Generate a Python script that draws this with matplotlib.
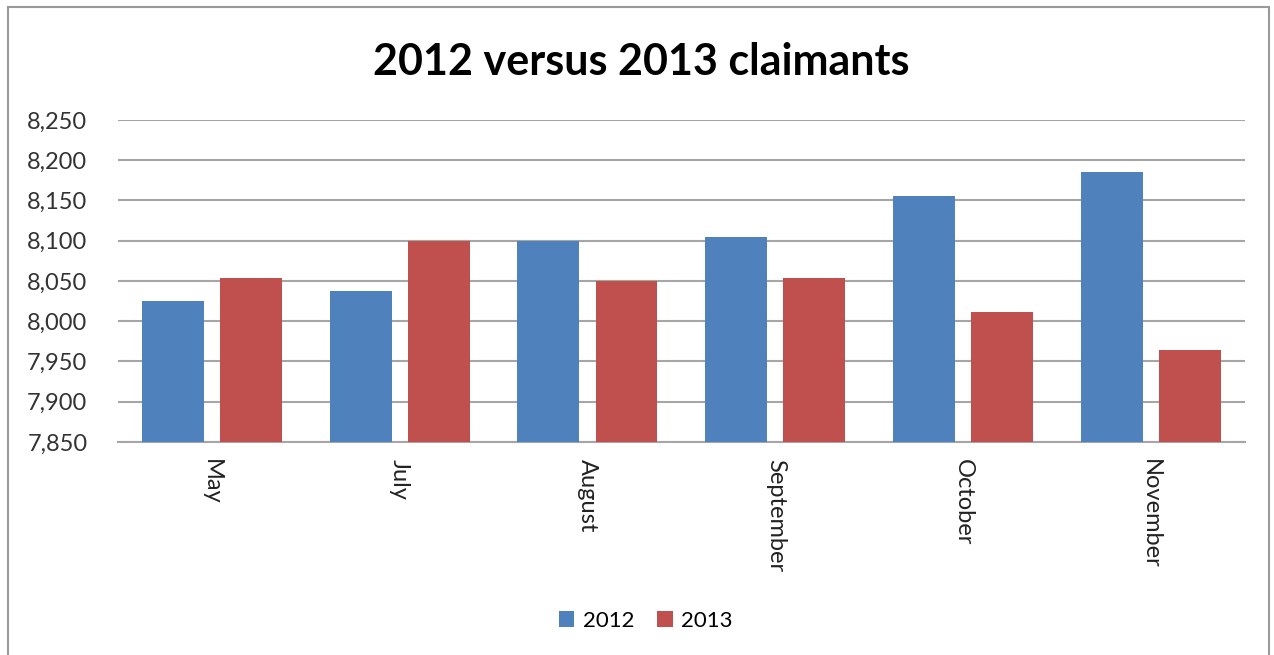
import numpy as np
import matplotlib.pyplot as plt
from matplotlib.patches import Rectangle

months = ["May", "July", "August", "September", "October", "November"]
claims_2012 = [8025, 8038, 8100, 8105, 8156, 8185]
claims_2013 = [8054, 8100, 8050, 8054, 8011, 7964]
yticks = list(range(7850, 8251, 50))

plt.rcParams['font.family'] = ['Lato', 'DejaVu Sans']

fig = plt.figure(figsize=(12.74, 6.55), dpi=100)
ax = fig.add_axes([0.0926, 0.3252, 0.8844, 0.4916])

x = np.arange(len(months))
w = 0.33
ax.bar(x - 0.208, claims_2012, w, color='#4F81BD', label='2012', zorder=3)
ax.bar(x + 0.208, claims_2013, w, color='#C0504D', label='2013', zorder=3)

ax.set_xlim(-0.5, len(months) - 0.5)
ax.set_ylim(7850, 8250)
ax.set_yticks(yticks)
ax.set_yticklabels([f"{v:,}" for v in yticks], fontsize=17, color='#333333')
ax.set_xticks(x)
ax.set_xticklabels(months, rotation=-90, fontsize=17, color='#222222')
ax.tick_params(axis='y', length=0, pad=22)
ax.tick_params(axis='x', length=0, pad=12)
ax.yaxis.grid(True, color='#a6a6a6', linewidth=1.5, zorder=0)
for s in ['left', 'right', 'top']:
    ax.spines[s].set_visible(False)
ax.spines['bottom'].set_color('#a6a6a6')
ax.spines['bottom'].set_linewidth(1.5)

fig.text(0.503, 0.905, "2012 versus 2013 claimants", ha='center', va='center',
         fontsize=31, fontweight='bold', color='black')

fig.legend(loc='center', bbox_to_anchor=(0.507, 0.052), ncol=2, frameon=False,
           fontsize=16, handlelength=0.7, handleheight=0.7, columnspacing=1.0,
           handletextpad=0.4)

fig.patches.append(Rectangle((0.006, -0.01), 0.99, 1.0, transform=fig.transFigure,
                             fill=False, edgecolor='#9a9a9a', linewidth=1.5))

fig.savefig('out.png', dpi=100)
